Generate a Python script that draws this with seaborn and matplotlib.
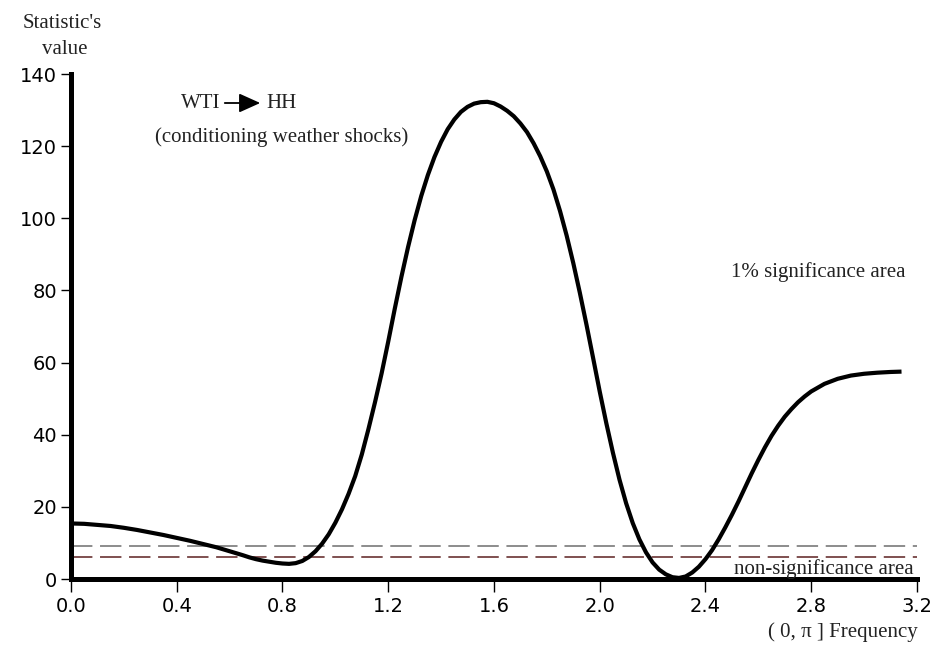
import matplotlib
matplotlib.use("Agg")
import matplotlib.pyplot as plt
from matplotlib.patches import FancyArrowPatch
import pandas as pd
import seaborn as sns

# ── Data ────────────────────────────────────────────────────────────────────
freq = [0.000, 0.050, 0.100, 0.150, 0.200, 0.250, 0.300, 0.350, 0.400, 0.450,
        0.500, 0.550, 0.600, 0.650, 0.675, 0.700, 0.725, 0.750, 0.775, 0.800,
        0.825, 0.850, 0.875, 0.900, 0.925, 0.950, 0.975, 1.000, 1.025, 1.050,
        1.075, 1.100, 1.125, 1.150, 1.175, 1.200, 1.225, 1.250, 1.275, 1.300,
        1.325, 1.350, 1.375, 1.400, 1.425, 1.450, 1.475, 1.500, 1.525, 1.550,
        1.575, 1.600, 1.625, 1.650, 1.675, 1.700, 1.725, 1.750, 1.775, 1.800,
        1.825, 1.850, 1.875, 1.900, 1.925, 1.950, 1.975, 2.000, 2.025, 2.050,
        2.075, 2.100, 2.125, 2.150, 2.175, 2.200, 2.225, 2.250, 2.275, 2.300,
        2.325, 2.350, 2.375, 2.400, 2.425, 2.450, 2.475, 2.500, 2.525, 2.550,
        2.575, 2.600, 2.625, 2.650, 2.675, 2.700, 2.725, 2.750, 2.775, 2.800,
        2.850, 2.900, 2.950, 3.000, 3.050, 3.100, 3.1416]
stat = [15.4, 15.3, 15.0, 14.7, 14.2, 13.6, 12.9, 12.2, 11.4, 10.6,
        9.7, 8.8, 7.7, 6.6, 6.0, 5.5, 5.1, 4.8, 4.5, 4.3,
        4.2, 4.4, 5.0, 6.1, 7.7, 9.8, 12.4, 15.6, 19.3, 23.6,
        28.5, 34.5, 41.5, 49.0, 57.0, 65.8, 75.0, 83.8, 92.0, 99.5,
        106.2, 112.0, 117.0, 121.2, 124.7, 127.4, 129.5, 130.9, 131.8, 132.2,
        132.3, 131.9, 131.0, 129.8, 128.3, 126.3, 123.9, 120.8, 117.2, 113.0,
        108.0, 102.0, 95.2, 87.6, 79.3, 70.5, 61.3, 52.0, 43.2, 35.0,
        27.5, 21.0, 15.5, 11.0, 7.4, 4.6, 2.6, 1.3, 0.5, 0.3,
        0.7, 1.8, 3.4, 5.5, 8.0, 11.0, 14.3, 17.8, 21.5, 25.4,
        29.3, 33.0, 36.5, 39.7, 42.5, 45.0, 47.1, 49.0, 50.6, 52.0,
        54.1, 55.5, 56.4, 56.9, 57.2, 57.4, 57.5]
crit_1pct = 9.21
crit_5pct = 5.99

x_ticks = [0.0, 0.4, 0.8, 1.2, 1.6, 2.0, 2.4, 2.8, 3.2]
y_ticks = [0, 20, 40, 60, 80, 100, 120, 140]

df = pd.DataFrame({"freq": freq, "stat": stat})

sns.set_theme(style="white")
plt.rcParams["font.family"] = ["DejaVu Sans"]
SERIF = ["Liberation Serif", "DejaVu Serif"]

fig = plt.figure(figsize=(9.35, 6.46), dpi=100)
ax = fig.add_axes([0.0759, 0.1037, 0.9048, 0.7817])

ax.hlines(crit_1pct, 0, 3.2, colors="#6e6e6e", linewidth=1.1,
          linestyles=(0, (14, 5)))
ax.hlines(crit_5pct, 0, 3.2, colors="#5c2020", linewidth=1.1,
          linestyles=(0, (14, 5)))
sns.lineplot(data=df, x="freq", y="stat", ax=ax, color="black",
             linewidth=3.0, sort=False, solid_joinstyle="round",
             solid_capstyle="butt")

ax.set_xlim(0, 3.2)
ax.set_ylim(0, 140)
ax.set_xticks(x_ticks)
ax.set_xticklabels([f"{t:.1f}" for t in x_ticks])
ax.set_yticks(y_ticks)
ax.set_xlabel("")
ax.set_ylabel("")

for side in ("top", "right"):
    ax.spines[side].set_visible(False)
for side in ("left", "bottom"):
    ax.spines[side].set_linewidth(3.6)
    ax.spines[side].set_color("black")
ax.tick_params(axis="both", direction="out", length=9, width=1.0,
               color="black", labelsize=14, labelcolor="black", pad=4,
               left=True, bottom=True)
ax.tick_params(axis="y", length=7, pad=3)

# ── Annotations ──────────────────────────────────────────────────────────────
def ftext(x, y, s, **kw):
    fig.text(x / 935, 1 - y / 646, s, family=SERIF, fontsize=15,
             color="#222222", **kw)

ftext(62, 24, "Statistic's", ha="center", va="center")
ftext(65, 50, "value", ha="center", va="center")
ftext(220, 104, "WTI", ha="right", va="center")
ftext(266, 104, "HH", ha="left", va="center")
ftext(282, 137, "(conditioning weather shocks)", ha="center", va="center")
ftext(818, 272, "1% significance area", ha="center", va="center")
ftext(914, 569, "non-significance area", ha="right", va="center")
ftext(918, 632, "( 0, π ] Frequency", ha="right", va="center")

fig.add_artist(FancyArrowPatch(
    (222 / 935, 1 - 103 / 646), (263 / 935, 1 - 103 / 646),
    transform=fig.transFigure, arrowstyle="-|>,head_length=10,head_width=4.5",
    mutation_scale=1.3, color="black", linewidth=1.3))

fig.savefig("out.png", dpi=100)
